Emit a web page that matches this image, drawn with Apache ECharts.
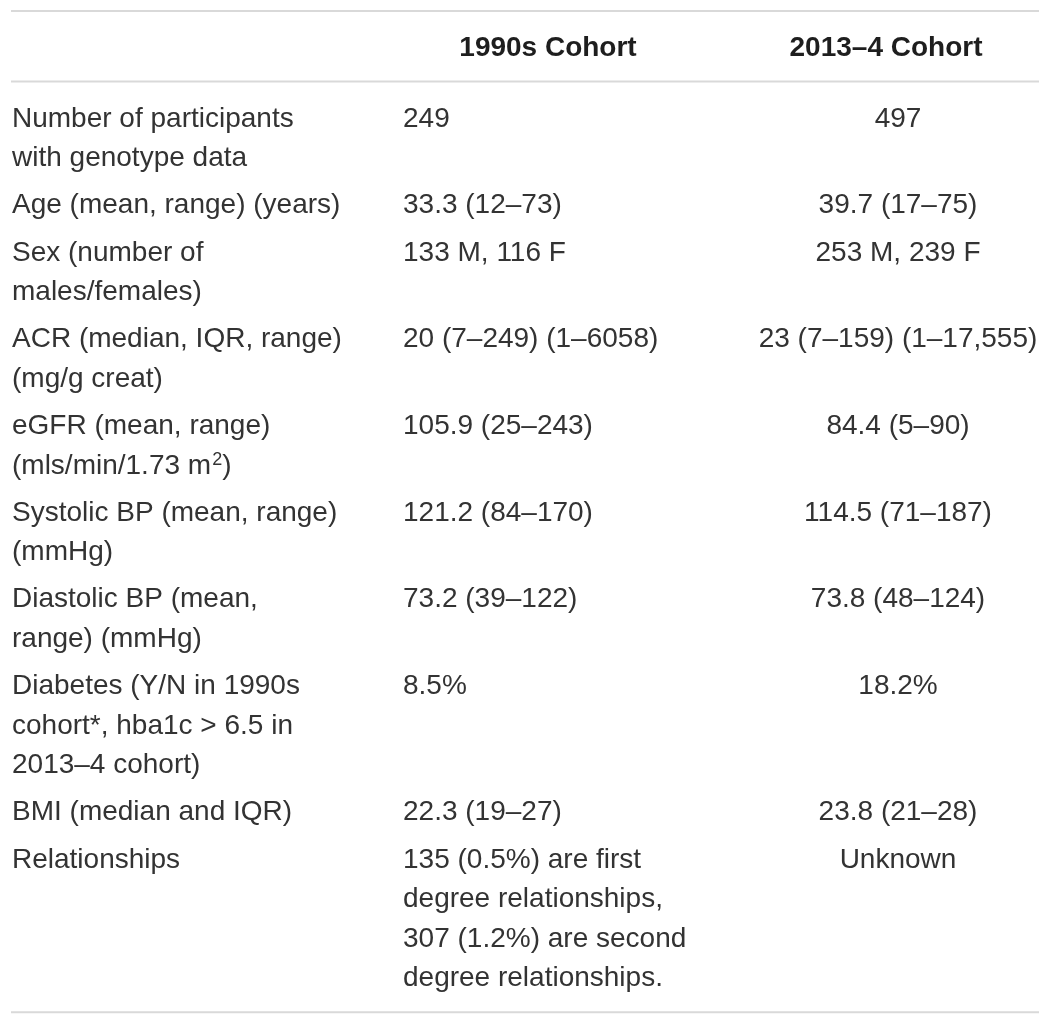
<!DOCTYPE html>
<html>
<head>
<meta charset="utf-8">
<script src="https://cdn.jsdelivr.net/npm/echarts@6/dist/echarts.min.js"></script>
<style>
  html, body { margin: 0; padding: 0; background: #ffffff; }
  #chart { width: 1051px; height: 1025px; }
</style>
</head>
<body>
<div id="chart"></div>
<script>
// ---- Data ----
const headers = ["", "1990s Cohort", "2013–4 Cohort"];
const rowLabels = [
  ["Number of participants", "with genotype data"],
  ["Age (mean, range) (years)"],
  ["Sex (number of", "males/females)"],
  ["ACR (median, IQR, range)", "(mg/g creat)"],
  ["eGFR (mean, range)", "(mls/min/1.73 m²)"],
  ["Systolic BP (mean, range)", "(mmHg)"],
  ["Diastolic BP (mean,", "range) (mmHg)"],
  ["Diabetes (Y/N in 1990s", "cohort*, hba1c > 6.5 in", "2013–4 cohort)"],
  ["BMI (median and IQR)"],
  ["Relationships"]
];
const cohort1990 = [
  ["249"],
  ["33.3 (12–73)"],
  ["133 M, 116 F"],
  ["20 (7–249) (1–6058)"],
  ["105.9 (25–243)"],
  ["121.2 (84–170)"],
  ["73.2 (39–122)"],
  ["8.5%"],
  ["22.3 (19–27)"],
  ["135 (0.5%) are first", "degree relationships,", "307 (1.2%) are second", "degree relationships."]
];
const cohort2013 = [
  ["497"],
  ["39.7 (17–75)"],
  ["253 M, 239 F"],
  ["23 (7–159) (1–17,555)"],
  ["84.4 (5–90)"],
  ["114.5 (71–187)"],
  ["73.8 (48–124)"],
  ["18.2%"],
  ["23.8 (21–28)"],
  ["Unknown"]
];

// ---- Layout (styling, not data) ----
const W = 1051, H = 1025;
const layout = {
  ruleX0: 11, ruleX1: 1039,
  topRule: 11, headerRule: 81.5, bottomGap: 34,
  headerY: 48,
  firstLineY: 119,
  lineH: 39.5,
  rowGap: 7.7,
  colX: [12, 403, 898],
  colAlign: ['left', 'left', 'center'],
  headerX: [12, 548, 886],
  font: 'Liberation Sans, Arial, Helvetica, sans-serif',
  fontSize: 28,
  color: '#333333',
  headerColor: '#1e1e1e',
  ruleColor: '#d9d9d9'
};

const columns = [rowLabels, cohort1990, cohort2013];
const cells = [];
let linesBefore = 0;
let lastY = layout.firstLineY;
for (let r = 0; r < rowLabels.length; r++) {
  const n = Math.max(rowLabels[r].length, cohort1990[r].length, cohort2013[r].length);
  for (let c = 0; c < columns.length; c++) {
    columns[c][r].forEach((t, j) => {
      const y = layout.firstLineY + (linesBefore + j) * layout.lineH + r * layout.rowGap;
      cells.push({ x: layout.colX[c], y: y, align: layout.colAlign[c], text: t, bold: false });
      if (y > lastY) lastY = y;
    });
  }
  linesBefore += n;
}
headers.forEach((h, c) => {
  if (h) cells.push({ x: layout.headerX[c], y: layout.headerY, align: 'center', text: h, bold: true });
});
const rules = [layout.topRule, layout.headerRule, lastY + layout.bottomGap];

const chart = echarts.init(document.getElementById('chart'), null, { renderer: 'canvas' });
chart.setOption({
  animation: false,
  backgroundColor: '#ffffff',
  grid: { left: 0, right: 0, top: 0, bottom: 0 },
  xAxis: { type: 'value', min: 0, max: W, show: false },
  yAxis: { type: 'value', min: 0, max: H, inverse: true, show: false },
  series: [
    {
      type: 'custom',
      data: rules.map(y => [layout.ruleX0, y, layout.ruleX1]),
      renderItem: function (params, api) {
        const p0 = api.coord([api.value(0), api.value(1)]);
        const p1 = api.coord([api.value(2), api.value(1)]);
        return {
          type: 'line',
          shape: { x1: p0[0], y1: p0[1], x2: p1[0], y2: p1[1] },
          style: { stroke: layout.ruleColor, lineWidth: 2 }
        };
      }
    },
    {
      type: 'custom',
      data: cells.map((c, i) => [c.x, c.y, i]),
      renderItem: function (params, api) {
        const cell = cells[params.dataIndex];
        const p = api.coord([api.value(0), api.value(1)]);
        return {
          type: 'text',
          x: p[0], y: p[1],
          style: {
            text: cell.text.replace('²', '{sup|2}'),
            fill: cell.bold ? layout.headerColor : layout.color,
            fontFamily: layout.font,
            fontSize: layout.fontSize,
            fontWeight: cell.bold ? 'bold' : 'normal',
            align: cell.align,
            verticalAlign: 'middle',
            rich: {
              sup: { fontSize: 18, fontFamily: layout.font, fill: layout.color, verticalAlign: 'top', padding: [0, 0, 12, 1] }
            }
          }
        };
      }
    }
  ]
});
</script>
</body>
</html>
